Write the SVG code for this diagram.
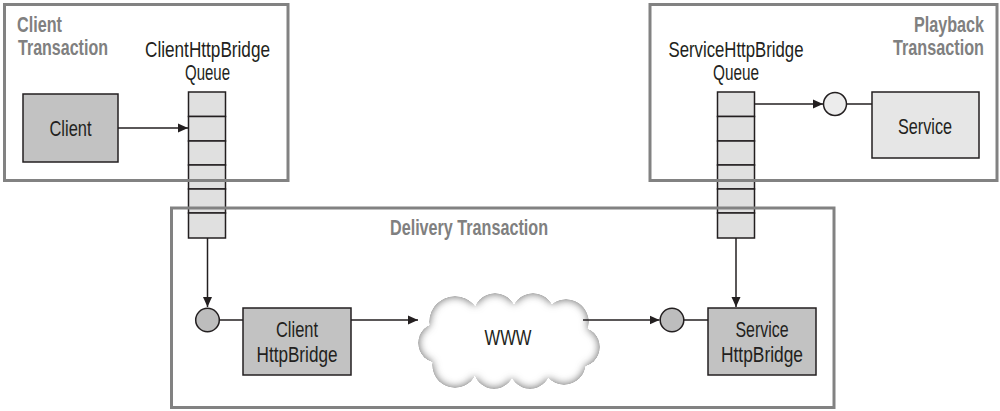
<svg xmlns="http://www.w3.org/2000/svg" width="1000" height="411" viewBox="0 0 1000 411">
<style>
text{font-family:"Liberation Sans",Arial,sans-serif;font-size:22px;fill:#231f20;text-anchor:middle}
.title{fill:#808080;font-weight:bold}
.start{text-anchor:start}
.end{text-anchor:end}
.frame{fill:none;stroke:#828282;stroke-width:3}
.box{stroke:#231f20;stroke-width:1.5}
.dark{fill:#c2c2c2}
.light{fill:#e6e6e6}
.cell{fill:#e0e0e0;stroke:#231f20;stroke-width:1.5}
.conn{stroke:#231f20;stroke-width:1.5;fill:none}
</style>
<defs>
<marker id="arr" viewBox="0 0 10 10" refX="10" refY="5" markerWidth="10" markerHeight="10" markerUnits="userSpaceOnUse" orient="auto">
<path d="M0,0.5 L10,5 L0,9.5 z" fill="#231f20"/>
</marker>
<filter id="cloudShade" x="-10%" y="-15%" width="120%" height="130%">
<feGaussianBlur in="SourceAlpha" stdDeviation="4" result="b"/>
<feComposite in="SourceAlpha" in2="b" operator="arithmetic" k2="1" k3="-1" result="edge"/>
<feFlood flood-color="#8a8a8a"/>
<feComposite in2="edge" operator="in" result="shade"/>
<feMerge><feMergeNode in="SourceGraphic"/><feMergeNode in="shade"/><feMergeNode in="shade"/></feMerge>
</filter>
</defs>
<rect width="1000" height="411" fill="#fff"/>

<g id="client">
<rect class="box dark" x="23" y="94" width="95" height="68"/>
<text x="70.5" y="135.5" textLength="42" lengthAdjust="spacingAndGlyphs">Client</text>
</g>

<g id="service">
<rect class="box light" x="872" y="92" width="107" height="66"/>
<text x="925" y="133.5" textLength="54" lengthAdjust="spacingAndGlyphs">Service</text>
</g>

<g id="clientQueue">
<text x="207.5" y="57" textLength="125" lengthAdjust="spacingAndGlyphs">ClientHttpBridge</text>
<text x="207.5" y="80" textLength="45" lengthAdjust="spacingAndGlyphs">Queue</text>
<rect class="cell" x="188.5" y="92" width="37" height="24.5"/>
<rect class="cell" x="188.5" y="116.5" width="37" height="24.5"/>
<rect class="cell" x="188.5" y="141" width="37" height="24"/>
<rect class="cell" x="188.5" y="165" width="37" height="24"/>
<rect class="cell" x="188.5" y="189" width="37" height="24"/>
<rect class="cell" x="188.5" y="213" width="37" height="25"/>
</g>

<g id="serviceQueue">
<text x="736" y="57" textLength="135" lengthAdjust="spacingAndGlyphs">ServiceHttpBridge</text>
<text x="736" y="80" textLength="46" lengthAdjust="spacingAndGlyphs">Queue</text>
<rect class="cell" x="717.5" y="92" width="37" height="24.5"/>
<rect class="cell" x="717.5" y="116.5" width="37" height="24.5"/>
<rect class="cell" x="717.5" y="141" width="37" height="24"/>
<rect class="cell" x="717.5" y="165" width="37" height="24"/>
<rect class="cell" x="717.5" y="189" width="37" height="24"/>
<rect class="cell" x="717.5" y="213" width="37" height="25"/>
</g>

<g id="clientTransaction">
<rect class="frame" x="4.5" y="4.5" width="283.5" height="176"/>
<text class="title start" x="17" y="32" textLength="45" lengthAdjust="spacingAndGlyphs">Client</text>
<text class="title start" x="18" y="55" textLength="90" lengthAdjust="spacingAndGlyphs">Transaction</text>
</g>

<g id="playbackTransaction">
<rect class="frame" x="650" y="4.5" width="347" height="176"/>
<text class="title end" transform="translate(984,32) scale(0.735,1)">Playback</text>
<text class="title end" transform="translate(984,55) scale(0.737,1)">Transaction</text>
</g>

<g id="deliveryTransaction">
<rect class="frame" x="171.5" y="208" width="662.5" height="199.5"/>
<text class="title" x="469" y="235" textLength="158" lengthAdjust="spacingAndGlyphs">Delivery Transaction</text>
</g>

<g id="clientPort">
<circle cx="207.5" cy="320" r="11.8" fill="#bdbdbd" stroke="#231f20" stroke-width="1.5"/>
</g>

<g id="clientHttpBridge">
<rect class="box dark" x="243" y="308" width="108" height="67"/>
<text x="297" y="337" textLength="42" lengthAdjust="spacingAndGlyphs">Client</text>
<text x="297" y="362" textLength="81" lengthAdjust="spacingAndGlyphs">HttpBridge</text>
</g>

<g id="www">
<g filter="url(#cloudShade)" fill="#fff">
<ellipse cx="508" cy="341" rx="78" ry="34"/>
<circle cx="455" cy="322" r="26"/>
<circle cx="495" cy="315" r="22"/>
<circle cx="533" cy="315" r="22"/>
<circle cx="566" cy="322" r="23"/>
<circle cx="438" cy="343" r="20"/>
<circle cx="580" cy="347" r="20"/>
<circle cx="455" cy="365" r="23"/>
<circle cx="494" cy="368" r="21"/>
<circle cx="530" cy="368" r="21"/>
<circle cx="564" cy="363" r="22"/>
</g>
<text x="508" y="345" textLength="47" lengthAdjust="spacingAndGlyphs">WWW</text>
</g>

<g id="servicePort">
<circle cx="672" cy="320" r="11.8" fill="#bdbdbd" stroke="#231f20" stroke-width="1.5"/>
</g>

<g id="serviceHttpBridge">
<rect class="box dark" x="708" y="308" width="108" height="67"/>
<text x="762" y="337" textLength="53" lengthAdjust="spacingAndGlyphs">Service</text>
<text x="762" y="362" textLength="82" lengthAdjust="spacingAndGlyphs">HttpBridge</text>
</g>

<g id="servicePortTop">
<circle cx="835" cy="104" r="11.5" fill="#ececec" stroke="#231f20" stroke-width="1.5"/>
</g>

<g id="connectors">
<line class="conn" x1="118" y1="128" x2="188" y2="128" marker-end="url(#arr)"/>
<line class="conn" x1="207.5" y1="238" x2="207.5" y2="307" marker-end="url(#arr)"/>
<line class="conn" x1="219.3" y1="320" x2="243" y2="320"/>
<line class="conn" x1="351" y1="320" x2="418" y2="320" marker-end="url(#arr)"/>
<line class="conn" x1="583" y1="320" x2="659.5" y2="320" marker-end="url(#arr)"/>
<line class="conn" x1="683.8" y1="320" x2="708" y2="320"/>
<line class="conn" x1="736" y1="238" x2="736" y2="307" marker-end="url(#arr)"/>
<line class="conn" x1="754.5" y1="104" x2="823" y2="104" marker-end="url(#arr)"/>
<line class="conn" x1="846.5" y1="104" x2="872" y2="104"/>
</g>
</svg>
